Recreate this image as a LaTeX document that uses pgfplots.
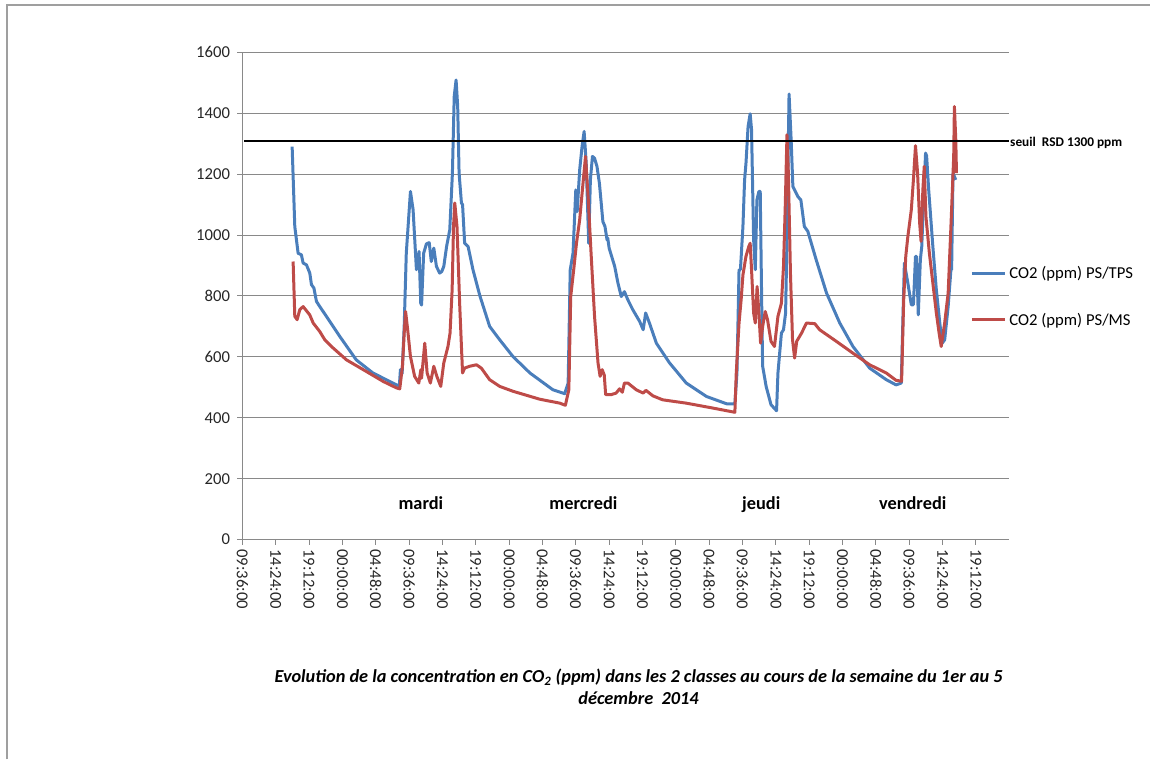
\documentclass[border=0pt]{standalone}
\usepackage{pgfplots}
\pgfplotsset{compat=1.18}
\usepackage{fontspec}
\setmainfont{Carlito}
\definecolor{cblue}{HTML}{4A7EBB}
\definecolor{cred}{HTML}{BE4B48}
\definecolor{cgrid}{HTML}{898989}
\begin{document}
\begin{tikzpicture}
\path (0,0) rectangle (863.25pt,570pt);
\draw[gray!75, line width=1.2pt] (5.25pt,0) -- (5.25pt,566.25pt) -- (863.25pt,566.25pt);
\begin{axis}[
  at={(181.875pt,165pt)}, anchor=south west,
  scale only axis, width=575.6pt, height=365.8pt,
  xmin=0, xmax=110.4, ymin=0, ymax=1600,
  axis lines*=left,
  axis line style={cgrid, line width=0.75pt},
  xtick={0,4.8,9.6,14.4,19.2,24,28.8,33.6,38.4,43.2,48,52.8,57.6,62.4,67.2,72,76.8,81.6,86.4,91.2,96,100.8,105.6},
  xticklabels={09:36:00,14:24:00,19:12:00,00:00:00,04:48:00,09:36:00,14:24:00,19:12:00,00:00:00,04:48:00,09:36:00,14:24:00,19:12:00,00:00:00,04:48:00,09:36:00,14:24:00,19:12:00,00:00:00,04:48:00,09:36:00,14:24:00,19:12:00},
  ytick={0,200,...,1600},
  ymajorgrids, grid style={cgrid, line width=0.75pt},
  tick align=outside, major tick length=3.75pt,
  tick style={cgrid, line width=0.75pt},
  /pgf/number format/assume math mode=true,
  /pgf/number format/1000 sep={},
  ticklabel style={font=\fontsize{12.5}{14}\selectfont, text=black!85},
  xticklabel style={rotate=-90, anchor=west, xshift=0pt},
  yticklabel style={xshift=-2pt},
  clip=false,
  legend style={at={(0.949,0.498)}, anchor=west, draw=none, fill=none,
    font=\fontsize{12.5}{14}\selectfont, row sep=20pt, inner sep=0pt,
    nodes={inner sep=2pt}},
  legend cell align=left,
  legend image code/.code={\draw[#1] (0pt,0pt) -- (25pt,0pt);},
  every axis plot/.append style={line join=round, line width=2.25pt},
]
\addplot[cblue] coordinates {
(7.17,1290) (7.55,1028) (8.03,940) (8.5,935) (8.75,908) (9.23,902) (9.71,875) (9.95,837) (10.3,826) (10.67,782) (11.15,765) (12.1,733) (14.03,667) (16.4,590) (18.8,547) (22.2,508) (22.6,505) (22.76,558) (23.0,545) (23.3,700) (23.6,940) (24.2,1143) (24.58,1083) (25.06,886) (25.44,946) (25.68,776) (25.8,770) (26.1,940) (26.5,971) (26.9,975) (27.2,913) (27.56,957) (27.94,897) (28.4,875) (28.7,880) (29.0,897) (29.4,962) (29.86,1017) (30.24,1203) (30.5,1455) (30.77,1509) (31.0,1422) (31.2,1203) (31.54,1105) (31.7,1100) (32.0,973) (32.5,962) (33.2,886) (34.2,800) (35.6,700) (37.05,656) (38.96,601) (41.4,547) (44.7,492) (46.4,479) (46.9,514) (47.2,886) (47.6,940) (48.0,1148) (48.2,1077) (48.56,1214) (48.9,1290) (49.2,1340) (49.5,1236) (49.86,973) (50.1,1181) (50.4,1258) (50.7,1252) (51.05,1225) (51.4,1170) (51.9,1044) (52.2,1028) (52.5,984) (52.6,990) (52.8,957) (53.6,897) (54.07,842) (54.55,798) (55.0,814) (55.5,787) (56.2,755) (57.2,716) (57.7,689) (58.06,744) (58.6,711) (59.6,645) (61.5,580) (63.9,514) (66.8,470) (69.7,446) (70.9,446) (71.2,547) (71.5,886) (71.7,886) (72.06,1028) (72.3,1181) (72.5,1236) (72.8,1356) (73.1,1398) (73.3,1346) (73.6,984) (73.84,886) (74.07,1115) (74.36,1143) (74.55,1143) (74.8,711) (74.9,569) (75.4,503) (76.1,443) (76.9,423) (77.1,547) (77.6,678) (77.9,689) (78.2,744) (78.4,984) (78.6,1312) (78.7,1463) (79.0,1312) (79.25,1159) (79.6,1143) (79.97,1126) (80.4,1115) (80.9,1028) (81.4,1012) (82.6,919) (84.1,809) (86.0,711) (87.9,634) (90.3,563) (92.7,525) (94.1,508) (94.85,514) (95.3,908) (95.8,842) (96.3,771) (96.6,771) (96.9,930) (97.05,930) (97.3,738) (97.6,919) (97.8,962) (98.06,1115) (98.35,1269) (98.5,1260) (98.8,1148) (99.4,962) (99.9,820) (100.4,711) (100.75,645) (101.1,656) (101.6,765) (102.0,886) (102.1,886) (102.3,1203) (102.5,1192) (102.7,1181)
};
\addlegendentry{CO2 (ppm) PS/TPS}
\addplot[cred] coordinates {
(7.31,913) (7.55,733) (7.89,722) (8.27,755) (8.75,765) (9.7,738) (10.2,711) (11.15,683) (11.87,656) (13.07,629) (15.0,590) (17.4,558) (20.3,519) (22.2,498) (22.66,495) (23.05,569) (23.3,678) (23.5,749) (23.8,689) (24.2,601) (24.8,536) (25.4,514) (25.7,558) (25.8,530) (26.26,645) (26.6,547) (27.07,514) (27.56,569) (28.0,536) (28.56,503) (29.0,580) (29.6,634) (29.9,678) (30.2,820) (30.4,1028) (30.58,1105) (30.9,1028) (31.3,765) (31.7,547) (32.0,563) (32.7,569) (33.7,574) (34.4,563) (35.6,525) (37.05,503) (38.96,487) (42.8,461) (45.7,448) (46.5,441) (47.0,492) (47.27,798) (47.7,886) (48.1,973) (48.56,1050) (49.04,1170) (49.4,1258) (49.8,1115) (50.2,940) (50.7,733) (51.2,580) (51.5,536) (51.8,558) (52.1,540) (52.3,476) (53.1,476) (53.8,481) (54.3,495) (54.7,484) (55.0,514) (55.5,514) (56.7,492) (57.7,481) (58.1,490) (59.1,472) (60.5,459) (63.9,448) (67.7,432) (70.9,418) (71.1,547) (71.5,711) (71.8,787) (72.06,869) (72.5,930) (72.9,962) (73.1,973) (73.3,886) (73.6,744) (73.84,711) (74.1,831) (74.36,744) (74.6,645) (74.9,700) (75.27,749) (75.6,722) (76.1,651) (76.6,634) (77.1,733) (77.6,776) (77.9,897) (78.15,1093) (78.4,1329) (78.6,1203) (78.9,875) (79.2,656) (79.5,596) (79.8,651) (80.5,678) (81.2,711) (82.4,709) (83.1,689) (85.5,651) (87.9,612) (90.3,574) (92.7,547) (94.1,523) (94.9,520) (95.2,787) (95.5,930) (95.8,995) (96.3,1083) (96.6,1181) (96.9,1293) (97.2,1203) (97.5,1039) (97.7,979) (97.96,1148) (98.16,1225) (98.4,1061) (98.9,940) (99.4,842) (99.9,744) (100.3,678) (100.6,634) (101.1,711) (101.6,809) (102.0,1028) (102.4,1258) (102.5,1422) (102.7,1312) (102.8,1203)
};
\addlegendentry{CO2 (ppm) PS/MS}
\addplot[black, line width=1.5pt, forget plot] coordinates {(0.3,1310) (110.4,1310)};
\node[anchor=west, font=\fontsize{10}{12}\selectfont\bfseries, inner sep=0pt, xshift=0.5pt, yshift=-2pt] at (axis cs:110.4,1310) {seuil\ \ RSD 1300 ppm};
\node[anchor=base, font=\fontsize{13.75}{15}\selectfont\bfseries] at (axis cs:25.7,100) {mardi};
\node[anchor=base, font=\fontsize{13.75}{15}\selectfont\bfseries] at (axis cs:49.1,100) {mercredi};
\node[anchor=base, font=\fontsize{13.75}{15}\selectfont\bfseries] at (axis cs:74.7,100) {jeudi};
\node[anchor=base, font=\fontsize{13.75}{15}\selectfont\bfseries] at (axis cs:96.5,100) {vendredi};
\end{axis}
\node[align=center, font=\fontsize{13.75}{16.5}\selectfont\bfseries\itshape, anchor=north] at (479.25pt,71.5pt) {Evolution de la concentration en CO\textsubscript{2} (ppm) dans les 2 classes au cours de la semaine du 1er au 5\\d\'ecembre\ \ 2014};
\end{tikzpicture}
\end{document}
